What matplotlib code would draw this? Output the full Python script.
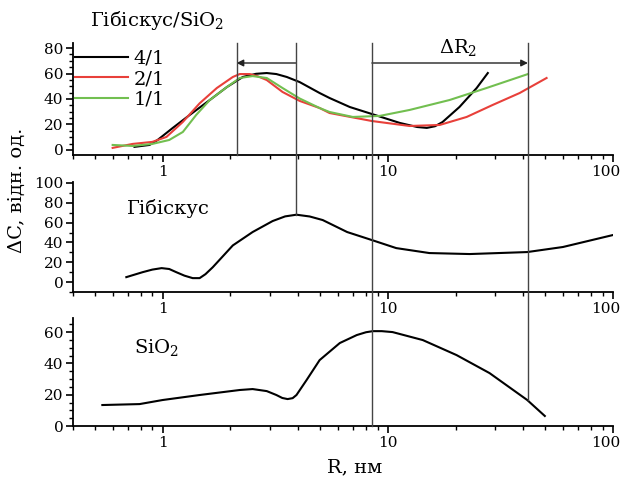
import matplotlib
matplotlib.use('Agg')
import matplotlib.pyplot as plt
import numpy as np
from matplotlib.ticker import LogLocator, MultipleLocator, NullFormatter, FixedFormatter, FixedLocator
from matplotlib.transforms import blended_transform_factory, ScaledTranslation
from matplotlib.lines import Line2D
from matplotlib.patches import FancyArrowPatch

plt.rcParams['font.family'] = ['DejaVu Serif']
plt.rcParams['mathtext.fontset'] = 'dejavuserif'

# top panel: Гібіскус/SiO2 mixtures
r_41 = [0.75, 0.875, 0.95, 1.11, 1.32, 1.62, 1.93, 2.27, 2.6, 2.9, 3.2, 3.56, 4.06, 4.98, 5.51, 6.78, 8.5, 11.3, 13.5, 14.9, 16.2, 17.5, 20.8, 24.8, 27.8]
c_41 = [2.4, 3.9, 7.8, 17.3, 27.5, 39.2, 49.4, 57.3, 59.8, 60.4, 59.6, 57.3, 53.3, 44.7, 40.8, 33.7, 28.2, 21.2, 18.0, 17.3, 18.6, 21.9, 33.7, 48.6, 60.4]

r_21 = [0.60, 0.736, 0.90, 1.04, 1.23, 1.46, 1.74, 2.05, 2.2, 2.44, 2.65, 2.9, 3.41, 4.06, 4.98, 5.51, 8.5, 12.5, 17.0, 22.4, 29.2, 38.5, 50.7]
c_21 = [1.6, 4.7, 6.3, 10.2, 22.0, 36.6, 48.6, 57.3, 59.6, 59.6, 57.8, 54.9, 45.5, 38.5, 32.9, 29.0, 22.7, 18.8, 19.6, 25.9, 35.3, 44.7, 56.5]

r_11 = [0.60, 0.736, 0.90, 1.07, 1.23, 1.41, 1.62, 1.93, 2.2, 2.51, 2.9, 3.41, 4.06, 4.98, 5.51, 6.99, 9.2, 12.5, 18.8, 27.4, 41.9]
c_11 = [3.9, 3.1, 4.7, 7.8, 14.1, 27.5, 39.2, 49.4, 56.5, 58.0, 56.5, 48.6, 40.4, 32.9, 29.8, 25.9, 26.7, 31.4, 39.2, 48.6, 59.6]

# middle panel: Гібіскус
r_hib = [0.69, 0.815, 0.9, 0.99, 1.07, 1.15, 1.25, 1.36, 1.46, 1.55, 1.67, 2.05, 2.51, 3.08, 3.5, 3.93, 4.5, 5.14, 6.6, 8.5, 10.9, 15.3, 23.1, 41.6, 59.9, 100]
c_hib = [5.0, 10.0, 12.6, 14.1, 13.2, 10.0, 6.5, 4.0, 4.0, 8.0, 15.0, 37.0, 50.5, 61.6, 66.3, 68.0, 66.2, 62.6, 50.5, 42.4, 34.3, 29.3, 28.3, 30.3, 35.4, 47.5]

# bottom panel: SiO2
r_sio = [0.54, 0.79, 1.0, 1.46, 2.2, 2.51, 2.9, 3.2, 3.4, 3.59, 3.78, 3.93, 4.36, 4.98, 6.12, 7.28, 8.0, 8.58, 9.4, 10.5, 14.3, 20.2, 28.3, 41.6, 49.8]
c_sio = [13.4, 14.0, 16.6, 19.8, 23.0, 23.6, 22.3, 19.8, 17.9, 17.2, 17.8, 19.8, 29.4, 42.1, 53.0, 58.1, 59.9, 60.6, 60.6, 60.0, 54.9, 45.3, 33.8, 16.6, 6.4]

# vertical marker lines (R positions)
r_marks = [2.13, 3.9, 8.5, 41.9]

W, H = 622, 488
fig = plt.figure(figsize=(W / 100, H / 100), dpi=100)

def px_axes(top, bottom):
    return fig.add_axes([73 / W, 1 - bottom / H, 540 / W, (bottom - top) / H])

ax1 = px_axes(43, 155)
ax2 = px_axes(182, 292)
ax3 = px_axes(318, 426)

shift = ScaledTranslation(-7 / 100, 0, fig.dpi_scale_trans)
for ax in (ax1, ax2, ax3):
    ax.set_xscale('log')
    ax.set_xlim(0.4, 100)
    ax.spines['top'].set_visible(False)
    ax.spines['right'].set_visible(False)
    ax.spines['left'].set_linewidth(1.3)
    ax.spines['bottom'].set_linewidth(1.3)
    ax.xaxis.set_major_locator(FixedLocator([1, 10, 100]))
    ax.xaxis.set_major_formatter(FixedFormatter(['1', '10', '100']))
    ax.xaxis.set_minor_locator(LogLocator(base=10, subs=np.arange(2, 10)))
    ax.xaxis.set_minor_formatter(NullFormatter())
    ax.tick_params(which='major', direction='out', length=5, width=1.2, labelsize=11, pad=2)
    ax.tick_params(which='minor', direction='out', length=3, width=1.0)
    ax.patch.set_alpha(0)
    lab = ax.get_xticklabels()[-1]
    lab.set_transform(lab.get_transform() + shift)

red = '#e8403a'
green = '#72bf50'

ax1.plot(r_41, c_41, color='black', lw=1.5, label='4/1')
ax1.plot(r_21, c_21, color=red, lw=1.5, label='2/1')
ax1.plot(r_11, c_11, color=green, lw=1.5, label='1/1')
ax1.set_ylim(-4, 84)
ax1.set_yticks([0, 20, 40, 60, 80])
ax1.yaxis.set_minor_locator(MultipleLocator(5))
ax1.legend(loc='upper left', bbox_to_anchor=(0.004, 0.94), frameon=False, fontsize=14,
           handlelength=2.7, handletextpad=0.3, labelspacing=0.12, borderpad=0, borderaxespad=0)

ax2.plot(r_hib, c_hib, color='black', lw=1.5)
ax2.set_ylim(-10, 101)
ax2.set_yticks([0, 20, 40, 60, 80, 100])
ax2.yaxis.set_minor_locator(MultipleLocator(10))

ax3.plot(r_sio, c_sio, color='black', lw=1.5)
ax3.set_ylim(0, 69)
ax3.set_yticks([0, 20, 40, 60])
ax3.yaxis.set_minor_locator(MultipleLocator(5))

# vertical lines spanning the panels
tr = blended_transform_factory(ax1.transData, fig.transFigure)
y_top = 1 - 43 / H
y_ends = [1 - 155 / H, 1 - 215 / H, 1 - 426 / H, 1 - 400 / H]
for r, yb in zip(r_marks, y_ends):
    fig.add_artist(Line2D([r, r], [yb, y_top], transform=tr, color='#444444', lw=1.0))

ya = 1 - 63 / H
fig.add_artist(FancyArrowPatch((r_marks[1], ya), (r_marks[0], ya), transform=tr,
                               arrowstyle='-|>', mutation_scale=10, color='#222222', lw=1.0,
                               shrinkA=0, shrinkB=0))
fig.add_artist(FancyArrowPatch((r_marks[2], ya), (r_marks[3], ya), transform=tr,
                               arrowstyle='-|>', mutation_scale=10, color='#222222', lw=1.0,
                               shrinkA=0, shrinkB=0))

fig.text(157 / W, 1 - 20 / H, 'Гібіскус/SiO$_2$', ha='center', va='center', fontsize=14)
fig.text(458 / W, 1 - 48 / H, 'ΔR$_2$', ha='center', va='center', fontsize=14)
fig.text(168 / W, 1 - 208 / H, 'Гібіскус', ha='center', va='center', fontsize=14)
fig.text(157 / W, 1 - 348 / H, 'SiO$_2$', ha='center', va='center', fontsize=14)
fig.text(17 / W, 1 - 190 / H, 'ΔC, відн. од.', ha='center', va='center', rotation=90, fontsize=14)
fig.text(355 / W, 1 - 467 / H, 'R, нм', ha='center', va='center', fontsize=14)

fig.savefig('out.png', dpi=100)
